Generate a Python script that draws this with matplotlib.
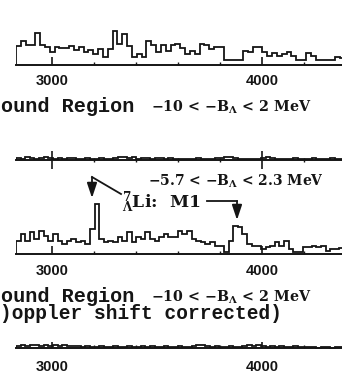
import matplotlib
matplotlib.use("Agg")
import matplotlib.pyplot as plt
from matplotlib.ticker import FixedLocator, MultipleLocator
import numpy as np

plt.rcParams["mathtext.fontset"] = "custom"
plt.rcParams["mathtext.rm"] = "DejaVu Serif:bold"
plt.rcParams["mathtext.bf"] = "DejaVu Serif:bold"
plt.rcParams["mathtext.it"] = "DejaVu Serif:bold"

# gamma-ray energy axis (keV), histogram bins start at the left edge of the panels
e_start = 2829
e_end = 4381
major_ticks = [3000, 4000]
minor_step = 200

# background region, -10 < -B < 2 MeV
bg_width = 23
bg_counts = [19, 24, 20, 20, 32, 20, 18, 13, 18, 17, 17, 19, 15, 18, 13, 15, 11,
             16, 8, 16, 34, 21, 31, 19, 8, 11, 8, 24, 20, 13, 20, 14, 20,
             21, 17, 11, 14, 11, 21, 20, 16, 18, 18, 5, 5, 5, 5, 14, 13, 18, 18,
             13, 9, 12, 9, 11, 13, 9, 5, 5, 12, 9, 5, 5, 5, 5, 8, 7, 8, 9]

# residual below it
diff_width = 22
bg_resid = [2, 1, 3, 2, 1, 2, 3, 2, 1, 2, 1, 2, 2, 1, 1, 2, 1, 1, 2, 1, 1,
            2, 3, 3, 2, 3, 1, 2, 2, 1, 2, 2, 1, 2, 1, 1, 1, 1, 1, 2, 1, 1, 1, 2,
            2, 3, 3, 2, 1, 1, 1, 1, 1, 2, 3, 2, 1, 1, 1, 1, 2, 1, 1, 1, 2, 1, 1,
            1, 2, 1, 1, 1, 1, 1]

# 7-Lambda-Li, -5.7 < -B < 2.3 MeV
li_width = 22
li_counts = [13, 20, 13, 22, 15, 23, 18, 13, 20, 13, 10, 13, 15, 12, 13, 10, 25,
             50, 15, 12, 13, 12, 17, 13, 22, 12, 17, 15, 22, 15, 13, 17, 20, 17,
             17, 23, 20, 23, 15, 13, 12, 10, 12, 8, 8, 2, 13, 28, 27, 20, 10, 8,
             8, 5, 7, 8, 12, 8, 13, 5, 2, 2, 7, 7, 8, 7, 8, 3, 5, 5, 6]

# background, Doppler shift corrected
dop_resid = [2, 3, 2, 3, 3, 2, 3, 2, 3, 2, 3, 2, 2, 2, 1, 2, 1,
             1, 2, 1, 1, 2, 1, 1, 2, 1, 1, 2, 1, 2, 1, 1, 2, 1, 1, 2, 1, 1,
             2, 3, 3, 2, 1, 2, 1, 1, 2, 1, 1, 2, 3, 2, 3, 2, 1,
             2, 1, 2, 1, 1, 2, 1, 1, 1, 1, 0, 1, 1, 0, 1, 1, 1, 0, 1]

W, H = 342, 377
INK = "#151515"
fig = plt.figure(figsize=(W / 100, H / 100), dpi=100)
fig.patch.set_facecolor("white")


def panel(base_y, counts, width, tick_len, tick_dir, labels, label_pad):
    lo, hi = -14, 52
    ax = fig.add_axes([16 / W, 1 - (base_y - lo) / H, (W - 16) / W, (hi - lo) / H])
    ax.patch.set_alpha(0)
    edges = e_start + width * np.arange(len(counts) + 1)
    ax.stairs(counts, edges, baseline=0, color=INK, lw=1.3)
    ax.set_xlim(e_start, e_end)
    ax.set_ylim(lo, hi)
    for s in ["left", "right", "top"]:
        ax.spines[s].set_visible(False)
    ax.spines["bottom"].set_position(("data", 0))
    ax.spines["bottom"].set_color(INK)
    ax.spines["bottom"].set_linewidth(1.4)
    ax.set_yticks([])
    ax.xaxis.set_major_locator(FixedLocator(major_ticks))
    ax.xaxis.set_minor_locator(MultipleLocator(minor_step))
    ax.tick_params(axis="x", which="major", direction=tick_dir, length=tick_len,
                   width=1.2, color=INK, pad=label_pad, labelbottom=labels)
    ax.tick_params(axis="x", which="minor", direction=tick_dir, length=2.5,
                   width=1.0, color=INK)
    if labels:
        ax.set_xticklabels([str(t) for t in major_ticks], family="Liberation Sans",
                           weight="bold", fontsize=10.5, color=INK)
    return ax


panel(64.5, bg_counts, bg_width, 5.5, "in", True, 6.5)
panel(159.5, bg_resid, diff_width, 13, "inout", False, 3)
panel(253.5, li_counts, li_width, 6, "in", True, 7.5)
panel(348, dop_resid, diff_width, 4, "in", True, 8.5)

# overlay in pixel coordinates for the annotations
ov = fig.add_axes([0, 0, 1, 1])
ov.set_xlim(0, W)
ov.set_ylim(H, 0)
ov.axis("off")
ov.patch.set_alpha(0)
rend = fig.canvas.get_renderer()


def fit(t, x0, x1):
    bb = t.get_window_extent(rend)
    t.set_fontsize(t.get_fontsize() * (x1 - x0) / bb.width)
    return t


mono = dict(family="Liberation Mono", weight="bold", color=INK, va="baseline")
slab = dict(family="DejaVu Serif", weight="bold", color=INK, va="baseline")

region = fit(ov.text(1, 112, "ound Region", fontsize=14, **mono), 1, 135)
fs = region.get_fontsize()
ov.text(1, 302, "ound Region", fontsize=fs, **mono)
ov.text(0, 319, ")oppler shift corrected)", fontsize=fs * 0.97, **mono)

range_bg = "\u221210 < \u2212B$_{\\Lambda}$ < 2 MeV"
for base in (112, 302):
    fit(ov.text(151, base, range_bg, fontsize=12, **slab), 151, 311)

fit(ov.text(148, 186, "\u22125.7 < \u2212B$_{\\Lambda}$ < 2.3 MeV",
            fontsize=12, **slab), 148, 323)
fit(ov.text(122, 208, "${}^{7}_{\\Lambda}$Li:  M1", fontsize=12, **slab), 122, 200)

arrow = dict(arrowstyle="-|>,head_length=0.9,head_width=0.3", color=INK, lw=1.3,
             shrinkA=0, shrinkB=0)
ov.plot([121, 92], [194, 177], color=INK, lw=1.3)
ov.annotate("", xy=(92, 198), xytext=(92, 177), arrowprops=arrow)
ov.plot([207, 237], [201, 201], color=INK, lw=1.3)
ov.annotate("", xy=(237, 220), xytext=(237, 201), arrowprops=arrow)

fig.savefig("out.png", dpi=100)
